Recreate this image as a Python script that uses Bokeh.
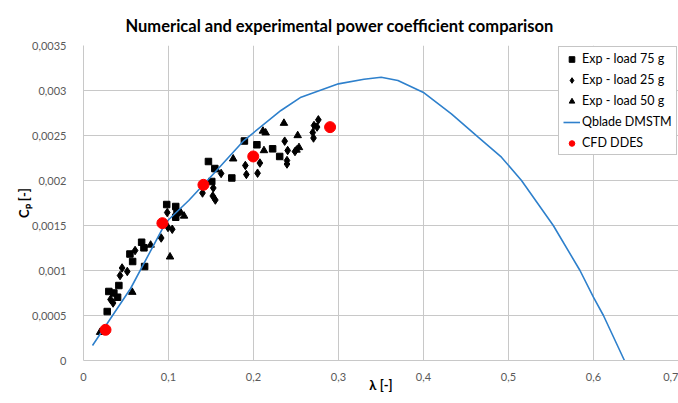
from bokeh.plotting import figure
from bokeh.models import FixedTicker, Legend, LegendItem
from bokeh.embed import file_html
from bokeh.resources import INLINE

title_text = "Numerical and experimental power coefficient comparison"
x_label = "λ [-]"
y_label = "Cₚ [-]"

x_ticks = [0, 0.1, 0.2, 0.3, 0.4, 0.5, 0.6, 0.7]
x_tick_labels = ["0", "0,1", "0,2", "0,3", "0,4", "0,5", "0,6", "0,7"]
y_ticks = [0, 0.0005, 0.001, 0.0015, 0.002, 0.0025, 0.003, 0.0035]
y_tick_labels = ["0", "0,0005", "0,001", "0,0015", "0,002", "0,0025", "0,003", "0,0035"]

# Exp - load 75 g (squares)
l75 = [0.0279, 0.0298, 0.0357, 0.0401, 0.0416, 0.0546, 0.0578, 0.0684, 0.0711, 0.0719,
       0.0979, 0.1085, 0.1100, 0.1085, 0.1470, 0.1509, 0.1545, 0.1745, 0.1893, 0.2040,
       0.2225, 0.2308]
cp75 = [0.000544, 0.000767, 0.000750, 0.000703, 0.000833, 0.001183, 0.001100, 0.001314,
        0.001252, 0.001044, 0.001733, 0.001711, 0.001644, 0.001592, 0.002211, 0.001989,
        0.002133, 0.002028, 0.002439, 0.002397, 0.002352, 0.002267]

# Exp - load 25 g (diamonds)
l25 = [0.0318, 0.0348, 0.0430, 0.0454, 0.0515, 0.0607, 0.0914, 0.0985, 0.0994, 0.1044,
       0.1400, 0.1527, 0.1521, 0.1551, 0.1619, 0.1904, 0.1916, 0.2048, 0.2075, 0.2367,
       0.2402, 0.2488, 0.2394, 0.2394, 0.2697, 0.2706, 0.2712, 0.2748, 0.2763]
cp25 = [0.000678, 0.000639, 0.000944, 0.001028, 0.000989, 0.001222, 0.001361, 0.001644,
        0.001478, 0.001458, 0.001861, 0.001917, 0.001828, 0.001783, 0.002078, 0.002167,
        0.002067, 0.002081, 0.002194, 0.002437, 0.002333, 0.002322, 0.002222, 0.002183,
        0.002533, 0.002472, 0.002611, 0.002594, 0.002674]

# Exp - load 50 g (triangles)
l50 = [0.0195, 0.0574, 0.0790, 0.1018, 0.1183, 0.1144, 0.1562, 0.1761, 0.2111, 0.2143,
       0.2123, 0.2358, 0.2520, 0.2535, 0.2506]
cp50 = [0.000314, 0.000759, 0.001283, 0.001152, 0.001606, 0.001644, 0.002122, 0.002241,
        0.002550, 0.002530, 0.002333, 0.002637, 0.002500, 0.002367, 0.002339]

# Qblade DMSTM (line)
lq = [0.0106, 0.0554, 0.0967, 0.1238, 0.1533, 0.1887, 0.2323, 0.2559, 0.2999, 0.3300,
      0.3502, 0.3699, 0.4006, 0.4328, 0.4643, 0.4917, 0.5153, 0.5527, 0.5841, 0.5999,
      0.6117, 0.6364]
cpq = [0.000167, 0.000800, 0.001533, 0.001778, 0.002078, 0.002444, 0.002778, 0.002926,
       0.003074, 0.003125, 0.003148, 0.003111, 0.002974, 0.002741, 0.002481, 0.002259,
       0.002000, 0.001500, 0.001000, 0.000703, 0.000500, 0.0]

# CFD DDES (red circles)
lc = [0.0259, 0.0928, 0.1411, 0.1997, 0.2901]
cpc = [0.000341, 0.001526, 0.001952, 0.002267, 0.002593]

FONT = "Lato"
GRID = "#c8c8c8"
TXT = "#595959"

p = figure(width=678, height=403, x_range=(0, 0.7), y_range=(0, 0.0035),
           output_backend="svg", toolbar_location=None,
           min_border_left=83, min_border_right=0, min_border_top=45, min_border_bottom=43)
p.outline_line_color = None
p.background_fill_color = "white"
p.border_fill_color = "white"

p.title.text = title_text
p.title.text_font = FONT
p.title.text_font_size = "16.5px"
p.title.text_font_style = "bold"
p.title.text_color = "#000000"
p.title.align = "left"
p.title.offset = 42
p.title.standoff = 19

p.xaxis.ticker = FixedTicker(ticks=x_ticks)
p.yaxis.ticker = FixedTicker(ticks=y_ticks)
p.xaxis.major_label_overrides = dict(zip(x_ticks, x_tick_labels))
p.yaxis.major_label_overrides = dict(zip(y_ticks, y_tick_labels))
for ax in (p.xaxis, p.yaxis):
    ax.major_tick_line_color = None
    ax.minor_tick_line_color = None
    ax.axis_line_color = GRID
    ax.major_label_text_font = FONT
    ax.major_label_text_font_size = "11px"
    ax.major_label_text_color = TXT
    ax.axis_label_text_font = FONT
    ax.axis_label_text_font_size = "13px"
    ax.axis_label_text_font_style = "bold"
    ax.axis_label_text_color = "#000000"
p.xaxis.axis_label = x_label
p.yaxis.axis_label = y_label
p.xaxis.major_label_standoff = 6
p.yaxis.major_label_standoff = 11
p.xaxis.axis_label_standoff = -7
p.yaxis.axis_label_standoff = -3

p.xgrid.ticker = FixedTicker(ticks=x_ticks)
p.ygrid.ticker = FixedTicker(ticks=y_ticks)
p.xgrid.grid_line_color = GRID
p.ygrid.grid_line_color = GRID

r75 = p.scatter(l75, cp75, marker="square", size=6.5, color="black")
r25 = p.scatter(l25, cp25, marker="diamond", size=8.5, color="black")
r50 = p.scatter(l50, cp50, marker="triangle", size=7.5, color="black")
rq = p.line(lq, cpq, line_color="#2e80cc", line_width=1.6)
rc = p.scatter(lc, cpc, marker="circle", size=11, color="#ff0000")

legend = Legend(items=[
    LegendItem(label="Exp - load 75 g", renderers=[r75]),
    LegendItem(label="Exp - load 25 g", renderers=[r25]),
    LegendItem(label="Exp - load 50 g", renderers=[r50]),
    LegendItem(label="Qblade DMSTM", renderers=[rq]),
    LegendItem(label="CFD DDES", renderers=[rc]),
], location="top_right")
legend.margin = 1
legend.padding = 4
legend.spacing = 6
legend.glyph_width = 17
legend.glyph_height = 14
legend.label_height = 14
legend.label_width = 90
legend.label_standoff = 2
legend.label_text_font = FONT
legend.label_text_font_size = "12.5px"
legend.label_text_color = "#000000"
legend.border_line_color = "#8c8c8c"
legend.border_line_width = 1
legend.background_fill_color = "white"
legend.background_fill_alpha = 1
p.add_layout(legend)

open("out.html", "w").write(file_html(p, INLINE))
